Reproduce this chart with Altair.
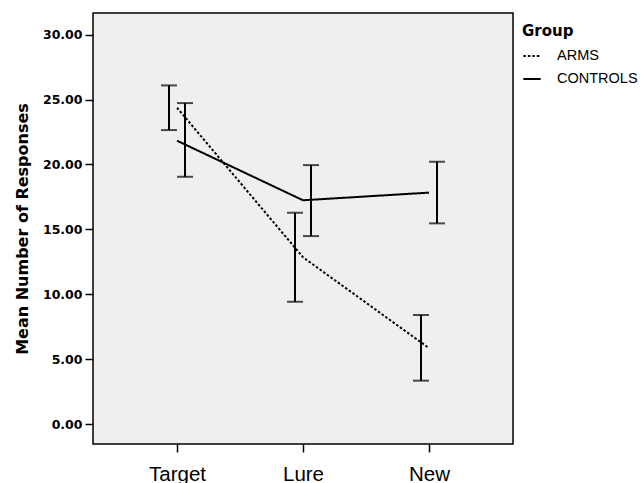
import altair as alt
import pandas as pd

categories = ["Target", "Lure", "New"]
groups = ["ARMS", "CONTROLS"]
arms_mean = [24.37, 12.85, 5.85]
arms_lo = [22.65, 9.42, 3.34]
arms_hi = [26.09, 16.28, 8.40]
ctrl_mean = [21.83, 17.24, 17.83]
ctrl_lo = [19.05, 14.48, 15.46]
ctrl_hi = [24.73, 19.95, 20.21]
y_ticks = [0, 5, 10, 15, 20, 25, 30]

rows = []
for g, m, lo, hi in [("ARMS", arms_mean, arms_lo, arms_hi),
                     ("CONTROLS", ctrl_mean, ctrl_lo, ctrl_hi)]:
    for c, mv, lv, hv in zip(categories, m, lo, hi):
        rows.append({"Condition": c, "Group": g, "mean": mv, "lo": lv, "hi": hv})
df = pd.DataFrame(rows)

x_enc = alt.X("Condition:N", sort=categories,
              scale=alt.Scale(type="point", padding=0.667),
              axis=alt.Axis(title=None, labelAngle=0, labelFont="Liberation Sans",
                            labelFontSize=20.5, labelColor="black", tickSize=8,
                            tickWidth=1.5, tickColor="black", labelPadding=12,
                            domain=False))
y_scale = alt.Scale(domain=[-1.54, 31.67], nice=False, zero=False)
y_axis = alt.Axis(title="Mean Number of Responses", values=y_ticks, format=".2f",
                  labelFont="DejaVu Sans", labelFontWeight="bold", labelFontSize=12.5,
                  labelColor="black", tickSize=8, tickWidth=1.5, tickColor="black",
                  labelPadding=3, grid=False, domain=False,
                  titleFont="DejaVu Sans", titleFontWeight="bold", titleFontSize=16,
                  titleColor="black", titlePadding=12)
xoff = alt.XOffset("Group:N", scale=alt.Scale(type="point", domain=groups,
                                               range=[-8, 8], padding=0))

base = alt.Chart(df)

lines = base.mark_line(color="black", strokeWidth=2).encode(
    x=x_enc,
    y=alt.Y("mean:Q", scale=y_scale, axis=y_axis),
    strokeDash=alt.StrokeDash(
        "Group:N",
        scale=alt.Scale(domain=groups, range=[[2.5, 2], [1, 0]]),
        legend=alt.Legend(title="Group", orient="none", legendX=429, legendY=11,
                          titleFont="DejaVu Sans", titleFontWeight="bold",
                          titleFontSize=15, titleColor="black", titlePadding=7,
                          labelFont="Liberation Sans", labelFontSize=14.5,
                          labelColor="black", labelOffset=15,
                          symbolType="stroke", symbolSize=300,
                          symbolStrokeWidth=2, symbolStrokeColor="black",
                          rowPadding=6, padding=0),
    ),
)

rules = base.mark_rule(color="black", strokeWidth=2).encode(
    x=x_enc, xOffset=xoff,
    y=alt.Y("lo:Q", scale=y_scale), y2="hi:Q",
)
cap_lo = base.mark_tick(color="black", thickness=2, size=16).encode(
    x=x_enc, xOffset=xoff, y=alt.Y("lo:Q", scale=y_scale),
)
cap_hi = base.mark_tick(color="black", thickness=2, size=16).encode(
    x=x_enc, xOffset=xoff, y=alt.Y("hi:Q", scale=y_scale),
)

chart = alt.layer(lines, rules, cap_lo, cap_hi).properties(
    width=420, height=431,
    autosize=alt.AutoSizeParams(type="none"),
    padding={"left": 93, "top": 13, "right": 130, "bottom": 39},
    background="white",
).configure_view(
    fill="#efefef", stroke="black", strokeWidth=1.5,
)

chart.save("out.html", embed_options={"renderer": "svg", "actions": False})
